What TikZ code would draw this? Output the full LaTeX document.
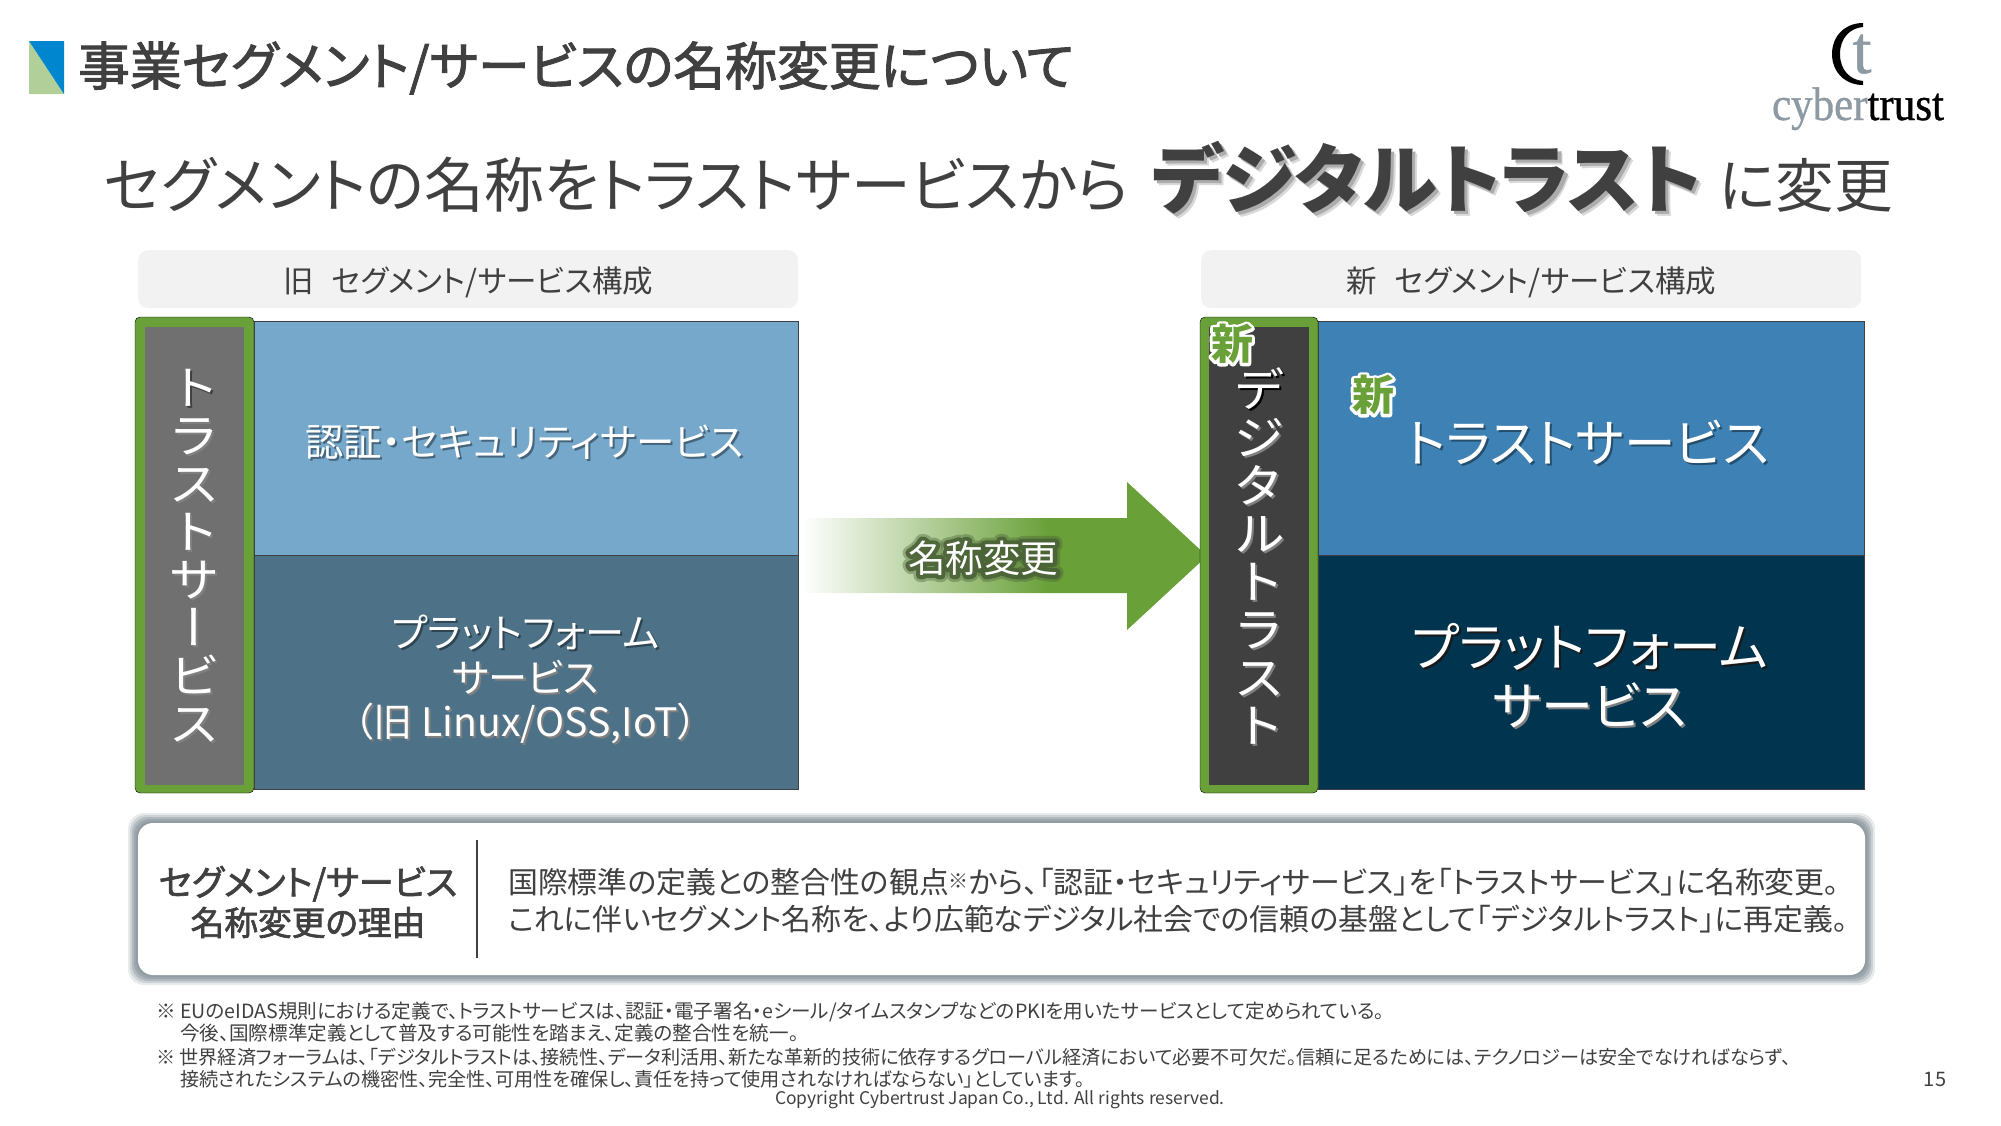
\documentclass[tikz,border=0pt]{standalone}
\usepackage{fontspec}
\usepackage{graphicx}
\setmainfont[RawFeature={+palt}]{Noto Sans CJK JP}
\newfontfamily\medfont[RawFeature={+palt},FakeBold=2]{Noto Sans CJK JP}
\newfontfamily\vertfont[RawFeature={+vert}]{Noto Sans CJK JP}
\newfontfamily\logofont[FakeBold=0.8]{Liberation Serif}
\newfontfamily\halofont[FakeBold=14]{Noto Sans CJK JP}
\newfontfamily\glowfont[FakeBold=22]{Noto Sans CJK JP}
\newfontfamily\glowwide[FakeBold=36]{Noto Sans CJK JP}
\usetikzlibrary{calc}

\definecolor{leafgreen}{HTML}{69A038}
\definecolor{glowgreen}{HTML}{4A6236}
\definecolor{inkgray}{HTML}{404040}
\definecolor{oldtopblue}{HTML}{75A8CB}
\definecolor{oldlowblue}{HTML}{4D7287}
\definecolor{newtopblue}{HTML}{3E81B4}
\definecolor{newlownavy}{HTML}{00344F}
\definecolor{panelgray}{HTML}{F2F2F2}
\definecolor{cyberyl}{HTML}{8D9AA3}
\definecolor{bandgray}{HTML}{8E9AA1}
\definecolor{iconblue}{HTML}{0085CF}
\definecolor{icongreen}{HTML}{B1CF98}

\pgfdeclarehorizontalshading{arrowfade}{100bp}{color(0bp)=(white); color(25bp)=(white); color(55.5bp)=(leafgreen); color(100bp)=(leafgreen)}

% text with a small drop shadow behind it
\colorlet{shadowcol}{gray}
\newcommand{\sh}[1]{\leavevmode\rlap{\kern2pt\raisebox{-2pt}{\color{shadowcol}#1}}#1}
% one character of a vertical label
\newcommand{\vch}[1]{\scalebox{1.09}[1]{\sh{#1}}}
% wider, softer shadow for the big headline word
\newcommand{\shbig}[1]{\leavevmode\rlap{\kern5pt\raisebox{-5pt}{\color{gray!30}#1}}\rlap{\kern3pt\raisebox{-3pt}{\color{gray!65}#1}}#1}
% white halo behind a mark
\newcommand{\halomark}[1]{\rlap{\pgfsetroundjoin\halofont\textcolor{white}{#1}}#1}
% soft dark halo, two layers
\newcommand{\softglow}[1]{\rlap{\pgfsetroundjoin\pgfsetfillopacity{.4}\pgfsetstrokeopacity{.4}\glowwide\textcolor{glowgreen}{#1}}%
	\rlap{\pgfsetroundjoin\pgfsetfillopacity{.9}\pgfsetstrokeopacity{.9}\glowfont\textcolor{glowgreen}{#1}}%
	\pgfsetfillopacity{1}\pgfsetstrokeopacity{1}#1}

\tikzset{
	headbox/.style={fill=panelgray, rounded corners=10pt, minimum width=660pt, minimum height=58pt,
		inner sep=0pt, anchor=north west},
	headtext/.style={inner sep=0pt, text=inkgray, font=\fontsize{30.5}{30.5}\selectfont},
	segblock/.style={draw=inkgray, line width=1.3pt, minimum width=#1, minimum height=234pt, anchor=north west, inner sep=0pt},
	segtext/.style={align=center, text=white, inner sep=0pt},
	barframe/.style={fill=leafgreen, rounded corners=5pt},
	vertlabel/.style={text=white, align=center, inner sep=0pt, font=\vertfont\fontsize{47.5}{48}\selectfont},
	newmark/.style={inner sep=0pt, text=leafgreen, font=\fontsize{42}{42}\bfseries\selectfont},
	bandlayer/.style={fill=bandgray, fill opacity=#1, rounded corners=16pt}
}

\begin{document}
\begin{tikzpicture}[x=1pt, y=-1pt]
\useasboundingbox (0,0) rectangle (2001,1125);

% heading
\fill [icongreen] (29,41) -- (29,94) -- (64,94) -- cycle;
\fill [iconblue] (29,41) -- (64,41) -- (64,94) -- cycle;
\node [anchor=west, inner sep=0pt, text=inkgray, font=\medfont\fontsize{51.8}{51.8}\selectfont] (title) at (78,68)
	{事業セグメント/サービスの名称変更について};

% logo
\fill [black] (1863,23) .. controls (1845,23) and (1832,36) .. (1832,54)
	.. controls (1832,72) and (1845,85) .. (1863,85) -- (1863,81)
	.. controls (1850,80) and (1840,70) .. (1840,54)
	.. controls (1840,38) and (1850,28) .. (1863,27) -- cycle;
\node [inner sep=0pt, anchor=base, text=cyberyl, font=\logofont\fontsize{68}{68}\selectfont] (logot) at (1862,73) {t};
\node [inner sep=0pt, anchor=base, font=\logofont\fontsize{47}{47}\selectfont] (logoname) at (1858,120)
	{\scalebox{.915}[1]{\textcolor{cyberyl}{cyber}\textcolor{black}{trust}}};

% headline
\node [anchor=west, inner sep=0pt, text=inkgray, font=\fontsize{59.8}{59.8}\selectfont] (lead) at (104,185)
	{セグメントの名称をトラストサービスから};
\node [anchor=west, inner sep=0pt, text=inkgray, font=\bfseries\fontsize{75.5}{75.5}\selectfont] (leadbig) at (1151,180)
	{\shbig{デジタルトラスト}};
\node [anchor=west, inner sep=0pt, text=inkgray, font=\fontsize{58.5}{58.5}\selectfont] (leadend) at (1719,185)
	{に変更};

% column heads
\node [headbox] (oldhead) at (138,250) {};
\node [headbox] (newhead) at (1201,250) {};
\node [headtext, yshift=-3pt] (oldheadtext) at (oldhead) {旧\hspace{18pt}セグメント/サービス構成};
\node [headtext, yshift=-3pt] (newheadtext) at (newhead) {新\hspace{18pt}セグメント/サービス構成};

% arrow
\path [shading=arrowfade] (802,518) -- (1127,518) -- (1127,482) -- (1207,556) -- (1127,630) -- (1127,593) -- (802,593) -- cycle;
\node [inner sep=0pt, text=white, font=\fontsize{37.5}{37.5}\selectfont] (rename) at (983,558)
	{\softglow{名称変更}};

% old column
\node [segblock=544pt, fill=oldtopblue] (oldtop) at (254,321) {};
\node [segblock=544pt, fill=oldlowblue] (oldlow) at (254,555) {};
\node [segtext, xshift=-2pt, yshift=-5pt, font=\fontsize{38.4}{38.4}\selectfont] (oldtoptext) at (oldtop)
	{\colorlet{shadowcol}{oldtopblue!60!black}\sh{認証・セキュリティサービス}};
\node [segtext, xshift=-1pt, yshift=-8pt, font=\fontsize{39.2}{44.5}\selectfont] (oldlowtext) at (oldlow)
	{\colorlet{shadowcol}{oldlowblue!60!black}\sh{プラットフォーム}\\\sh{サービス}\\\sh{（旧 Linux/OSS,IoT）}};
\draw [barframe] (135,317) rectangle (254,793);
\fill [black!56] (145,327) rectangle (244,785);
\node [vertlabel] (oldbar) at (194.5,557)
	{\colorlet{shadowcol}{black!75}\vch{ト}\\\vch{ラ}\\\vch{ス}\\\vch{ト}\\\vch{サ}\\\vch{ー}\\\vch{ビ}\\\vch{ス}};

% new column
\node [segblock=546pt, fill=newtopblue] (newtop) at (1318,321) {};
\node [segblock=546pt, fill=newlownavy] (newlow) at (1318,555) {};
\node [segtext, xshift=-4pt, yshift=-5pt, font=\fontsize{51.6}{51.6}\selectfont] (newtoptext) at (newtop)
	{\colorlet{shadowcol}{newtopblue!60!black}\sh{トラストサービス}};
\node [segtext, xshift=-2pt, yshift=-4pt, font=\fontsize{52}{59}\selectfont] (newlowtext) at (newlow)
	{\colorlet{shadowcol}{black!90}\sh{プラットフォーム}\\\sh{サービス}};
\draw [barframe] (1200,317) rectangle (1318,793);
\fill [inkgray] (1209,327) rectangle (1309,785);
\node [vertlabel] (newbar) at (1259,557)
	{\colorlet{shadowcol}{black}\vch{デ}\\\vch{ジ}\\\vch{タ}\\\vch{ル}\\\vch{ト}\\\vch{ラ}\\\vch{ス}\\\vch{ト}};

% new marks
\node [newmark] (markbar) at (1232,344) {\halomark{新}};
\node [newmark] (marktop) at (1373,395) {\halomark{新}};

% reason panel
\fill [bandlayer=.2] (128,813) rectangle (1875,985);
\fill [bandlayer=.3] (130,815) rectangle (1873,983);
\fill [bandlayer=.45] (132,817) rectangle (1871,981);
\fill [bandlayer=.6] (134,819) rectangle (1869,979);
\fill [bandlayer=.8] (136,821) rectangle (1867,977);
\fill [white, rounded corners=15pt] (138,823) rectangle (1865,975);
\node [inner sep=0pt, align=center, text=inkgray, font=\medfont\fontsize{35}{40}\selectfont] (reasonhead) at (308,902)
	{セグメント/サービス\\{\fontsize{33.7}{40}\selectfont 名称変更の理由}};
\coordinate (ruletop) at (477,840);
\coordinate (rulelow) at (477,958);
\draw [line width=2pt, inkgray] (ruletop) -- (rulelow);
\node [anchor=west, inner sep=0pt, align=left, text=inkgray, font=\fontsize{29.85}{37}\selectfont] (reasonbody) at (508,901)
	{国際標準の定義との整合性の観点\raisebox{5pt}{\fontsize{20}{20}\selectfont ※}から、「認証・セキュリティサービス」を「トラストサービス」に名称変更。\\
	これに伴いセグメント名称を、より広範なデジタル社会での信頼の基盤として「デジタルトラスト」に再定義。};

% footnotes
\node [anchor=west, inner sep=0pt, align=left, text=inkgray, font=\fontsize{19.6}{22}\selectfont] (noteone) at (156,1022)
	{※ EUのeIDAS規則における定義で、トラストサービスは、認証・電子署名・eシール/タイムスタンプなどのPKIを用いたサービスとして定められている。\\
	\hspace*{24pt}今後、国際標準定義として普及する可能性を踏まえ、定義の整合性を統一。};
\node [anchor=west, inner sep=0pt, align=left, text=inkgray, font=\fontsize{19.15}{22}\selectfont] (notetwo) at (156,1068)
	{※ 世界経済フォーラムは、「デジタルトラストは、接続性、データ利活用、新たな革新的技術に依存するグローバル経済において必要不可欠だ。信頼に足るためには、テクノロジーは安全でなければならず、\\
	\hspace*{24pt}接続されたシステムの機密性、完全性、可用性を確保し、責任を持って使用されなければならない」としています。};
\node [inner sep=0pt, text=inkgray, font=\fontsize{17.45}{17.45}\selectfont] (copyright) at (1000,1100)
	{Copyright Cybertrust Japan Co., Ltd. All rights reserved.};
\node [inner sep=0pt, text=inkgray, font=\fontsize{20}{20}\selectfont] (pageno) at (1935,1079) {15};

\end{tikzpicture}
\end{document}
